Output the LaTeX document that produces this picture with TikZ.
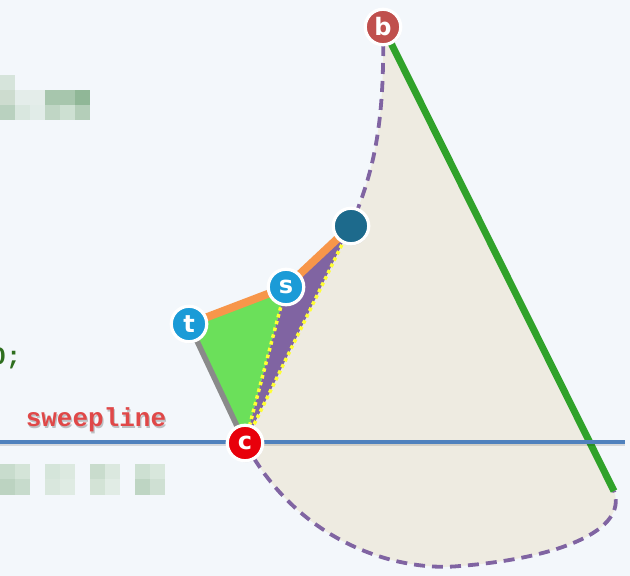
\documentclass[tikz,border=0pt]{standalone}
\usepackage{fontspec}
\newfontfamily\lblfont{DejaVu Sans}
\newfontfamily\codefont{Liberation Mono}
\usetikzlibrary{shadows}
\pgfdeclarelayer{bg}
\pgfsetlayers{bg,main}
\definecolor{bgc}{HTML}{F3F7FB}
\definecolor{beige}{HTML}{EEEBE1}
\definecolor{bcol}{HTML}{C0504D}
\definecolor{stcol}{HTML}{1B9BD7}
\definecolor{ccol}{HTML}{E8000B}
\definecolor{dcol}{HTML}{1D6A8C}
\definecolor{greenln}{HTML}{30A22A}
\definecolor{purpl}{HTML}{8064A2}
\definecolor{orng}{HTML}{F7964A}
\definecolor{grayedge}{HTML}{8A8A8A}
\definecolor{gtri}{HTML}{6BE05A}
\definecolor{yel}{HTML}{FFFF33}
\definecolor{blueln}{HTML}{4F81BD}
\definecolor{swred}{HTML}{E04848}
\definecolor{codegreen}{HTML}{2E6E1E}
\newcommand{\blkfill}[5]{\definecolor{tmpblk}{HTML}{#1}\fill[tmpblk] (#2,#3) rectangle (#4,#5);}
\begin{document}
\begin{tikzpicture}[x=1pt,y=-1pt,
  pt/.style={circle, draw=white, line width=3.2pt, minimum size=35.5pt, inner sep=0pt,
    text=white, font=\lblfont\bfseries\fontsize{24}{24}\selectfont,
    drop shadow={opacity=0.3, shadow xshift=0.8pt, shadow yshift=-1.5pt}},
  dashcurve/.style={draw=purpl, line width=3.8pt, dash pattern=on 11pt off 7pt},
  yeldot/.style={draw=yel, line width=3.5pt, dash pattern=on 3.5pt off 3.5pt},
  orangeedge/.style={draw=orng, line width=8pt},
  grayed/.style={draw=grayedge, line width=5.5pt},
  swfont/.style={font=\codefont\bfseries\fontsize{26}{26}\selectfont}]
\useasboundingbox (0,0) rectangle (630,576);

% nodes
\node[pt, fill=bcol] (b) at (383,27) {b};
\node[pt, fill=dcol] (d) at (351,226) {};
\node[pt, fill=stcol] (s) at (286,287) {s};
\node[pt, fill=stcol] (t) at (189,324) {t};
\node[pt, fill=ccol] (c) at (245,443) {c};
\coordinate (e) at (614,491);
\coordinate (swL) at (0,442);
\coordinate (swR) at (625,442);

\node[anchor=base, text=swred, swfont] (sw) at (96,426) {sweepline};
\node[anchor=base west, inner sep=0pt, text=codegreen, font=\codefont\bfseries\fontsize{25}{25}\selectfont] (code) at (-9,364) {0;};

\begin{pgfonlayer}{bg}
\fill[bgc] (0,0) rectangle (630,576);
% blurred code blocks
\blkfill{D6E4DB}{0}{75}{15}{90}
\blkfill{CDDCCF}{0}{90}{15}{105}
\blkfill{E4EDEA}{15}{90}{45}{105}
\blkfill{A7C6AD}{45}{90}{75}{105}
\blkfill{90B797}{75}{90}{90}{105}
\blkfill{B9D1BF}{0}{105}{15}{120}
\blkfill{D9E7DF}{15}{105}{30}{120}
\blkfill{E1ECE8}{30}{105}{45}{120}
\blkfill{C0D6C5}{45}{105}{60}{120}
\blkfill{CDE0D2}{60}{105}{75}{120}
\blkfill{B4CEB9}{75}{105}{90}{120}
% bottom blocks
\blkfill{C8DCCD}{0}{464}{15}{479}
\blkfill{D4E4D8}{15}{464}{30}{479}
\blkfill{D5E5DA}{45}{464}{60}{479}
\blkfill{DCE9E0}{60}{464}{75}{479}
\blkfill{C9DCCD}{90}{464}{105}{479}
\blkfill{DBE8DF}{105}{464}{120}{479}
\blkfill{CDE0D2}{135}{464}{150}{479}
\blkfill{D8E7DC}{150}{464}{165}{479}
\blkfill{BCD3C1}{0}{479}{15}{495}
\blkfill{C7DBCC}{15}{479}{30}{495}
\blkfill{D9E7DD}{45}{479}{60}{495}
\blkfill{DFEBE3}{60}{479}{75}{495}
\blkfill{D3E3D6}{90}{479}{105}{495}
\blkfill{E1ECE5}{105}{479}{120}{495}
\blkfill{BED5C3}{135}{479}{150}{495}
\blkfill{CFE0D3}{150}{479}{165}{495}

% beige region
\fill[beige] (b.center) .. controls (385,130) and (372,175) .. (d.center)
  -- (c.center) .. controls (300,545) and (400,572) .. (460,566)
  .. controls (560,558) and (628,530) .. (e) -- cycle;
% dashed boundaries
\draw[dashcurve] (b.center) .. controls (385,130) and (372,175) .. (d.center);
\draw[dashcurve] (c.center) .. controls (300,545) and (400,572) .. (460,566)
  .. controls (560,558) and (628,530) .. (e);
% green line
\draw[greenln, line width=7pt] (b.center) -- (e);
% triangles
\fill[gtri] (t.center) -- (s.center) -- (c.center) -- cycle;
\fill[purpl] (s.center) -- (d.center) -- (c.center) -- cycle;
% edges
\draw[grayed] (t.center) -- (c.center);
\draw[orangeedge] (t.center) -- (s.center);
\draw[orangeedge] (s.center) -- (d.center);
\draw[yeldot] (s.center) -- (c.center);
\draw[yeldot] (d.center) -- (c.center);
% sweepline
\draw[black, opacity=0.12, line width=4.5pt] ([yshift=-1.5pt]swL) -- ([yshift=-1.5pt]swR);
\draw[blueln, line width=4.5pt] (swL) -- (swR);
% text shadow
\node[anchor=base, text=black, opacity=0.22, swfont] at (97.2,428) {sweepline};
\end{pgfonlayer}
\end{tikzpicture}
\end{document}
